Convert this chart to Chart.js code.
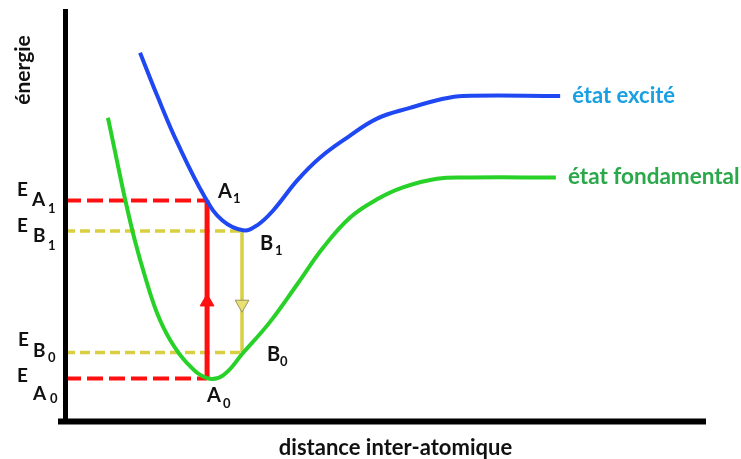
<!DOCTYPE html>
<html>
<head>
<meta charset="utf-8">
<script src="https://cdn.jsdelivr.net/npm/chart.js@4.4.1/dist/chart.umd.min.js"></script>
<style>
  html, body { margin: 0; padding: 0; background: #fff; }
  #wrap { position: relative; width: 741px; height: 459px; }
</style>
</head>
<body>
<div id="wrap"><canvas id="chart"></canvas></div>
<script>
// potential energy curves (x = inter-atomic distance, y = energy, arbitrary units)
const excitedX = [1.59, 1.97, 2.39, 2.97, 3.33, 3.77, 4.07, 4.41, 4.92, 5.40, 5.98, 6.61, 7.31, 8.01, 8.43, 10.49];
const excitedY = [8.94, 7.85, 6.73, 5.42, 4.87, 4.63, 4.75, 5.11, 5.84, 6.39, 6.88, 7.34, 7.60, 7.82, 7.89, 7.89];
const groundX = [0.91, 1.10, 1.27, 1.48, 1.70, 1.95, 2.23, 2.59, 3.01, 3.35, 3.77, 4.34, 4.92, 5.47, 6.04, 6.61, 7.16, 7.88, 8.58, 10.40];
const groundY = [7.36, 6.32, 5.40, 4.38, 3.49, 2.62, 1.96, 1.40, 1.04, 1.11, 1.65, 2.40, 3.32, 4.21, 4.94, 5.38, 5.67, 5.88, 5.91, 5.91];

// energy levels of the four points and the x of the two transitions
const levelNames = ['A1', 'B1', 'B0', 'A0'];
const levelEnergy = [5.35, 4.61, 1.66, 1.03];
const absorptionX = 3.01;   // A0 -> A1
const emissionX = 3.75;     // B1 -> B0

const curveNames = ['état excité', 'état fondamental'];
const xTitle = 'distance inter-atomique';
const yTitle = 'énergie';

const pts = (xs, ys) => xs.map((x, i) => ({ x: x, y: ys[i] }));
const lvl = name => levelEnergy[levelNames.indexOf(name)];

const RED = '#ff1010';
const YELLOW = '#d8cf42';
const FONT = 'Lato, "Open Sans", sans-serif';

// text labels, offsets in pixels from a data anchor
const labels = [
  { t: 'E', ax: 0, ay: lvl('A1'), dx: -48, dy: -5, s: 19 },
  { t: 'A', ax: 0, ay: lvl('A1'), dx: -33, dy: 5, s: 19 },
  { t: '1', ax: 0, ay: lvl('A1'), dx: -17, dy: 12, s: 13 },
  { t: 'E', ax: 0, ay: lvl('B1'), dx: -48, dy: 1, s: 19 },
  { t: 'B', ax: 0, ay: lvl('B1'), dx: -32, dy: 11, s: 19 },
  { t: '1', ax: 0, ay: lvl('B1'), dx: -17, dy: 19, s: 13 },
  { t: 'E', ax: 0, ay: lvl('B0'), dx: -47, dy: -7, s: 19 },
  { t: 'B', ax: 0, ay: lvl('B0'), dx: -32, dy: 4, s: 19 },
  { t: '0', ax: 0, ay: lvl('B0'), dx: -17, dy: 9, s: 13 },
  { t: 'E', ax: 0, ay: lvl('A0'), dx: -48, dy: 3, s: 19 },
  { t: 'A', ax: 0, ay: lvl('A0'), dx: -32, dy: 21, s: 19 },
  { t: '0', ax: 0, ay: lvl('A0'), dx: -15, dy: 24, s: 13 },
  { t: 'A', ax: absorptionX, ay: lvl('A1'), dx: 11, dy: -3, s: 20 },
  { t: '1', ax: absorptionX, ay: lvl('A1'), dx: 26, dy: 2, s: 13 },
  { t: 'B', ax: emissionX, ay: lvl('B1'), dx: 18, dy: 19, s: 20 },
  { t: '1', ax: emissionX, ay: lvl('B1'), dx: 33, dy: 24, s: 13 },
  { t: 'B', ax: emissionX, ay: lvl('B0'), dx: 25, dy: 8, s: 20 },
  { t: '0', ax: emissionX, ay: lvl('B0'), dx: 38, dy: 13, s: 13 },
  { t: 'A', ax: absorptionX, ay: lvl('A0'), dx: 0, dy: 23, s: 20 },
  { t: '0', ax: absorptionX, ay: lvl('A0'), dx: 16, dy: 29, s: 13 },
  { t: curveNames[0], ax: excitedX[excitedX.length - 1], ay: excitedY[excitedY.length - 1], dx: 12, dy: 7, s: 22, c: '#1aa0e2' },
  { t: curveNames[1], ax: groundX[groundX.length - 1], ay: groundY[groundY.length - 1], dx: 12, dy: 6, s: 22.5, c: '#2ba84a' }
];

const axesAndText = {
  id: 'axesAndText',
  afterDatasetsDraw(chart) {
    const ctx = chart.ctx;
    const a = chart.chartArea;
    const sx = chart.scales.x, sy = chart.scales.y;
    ctx.save();
    ctx.strokeStyle = '#000';
    ctx.lineWidth = 5;
    ctx.beginPath();
    ctx.moveTo(a.left + 0.5, a.top);
    ctx.lineTo(a.left + 0.5, a.bottom + 3);
    ctx.stroke();
    ctx.lineWidth = 6;
    ctx.beginPath();
    ctx.moveTo(a.left - 7, a.bottom + 0.5);
    ctx.lineTo(a.right, a.bottom + 0.5);
    ctx.stroke();

    ctx.textBaseline = 'alphabetic';
    labels.forEach(l => {
      ctx.fillStyle = l.c || '#111';
      ctx.font = 'bold ' + l.s + 'px ' + FONT;
      ctx.fillText(l.t, sx.getPixelForValue(l.ax) + l.dx, sy.getPixelForValue(l.ay) + l.dy);
    });

    ctx.fillStyle = '#111';
    ctx.font = 'bold 22px ' + FONT;
    ctx.textAlign = 'center';
    ctx.fillText(xTitle, (a.left + a.right) / 2 + 10, a.bottom + 34);
    ctx.font = 'bold 21px ' + FONT;
    ctx.translate(30, 70);
    ctx.rotate(-Math.PI / 2);
    ctx.fillText(yTitle, 0, 0);
    ctx.restore();
  }
};

const line = (data, color, width, dash) => ({
  type: 'line',
  data: data,
  borderColor: color,
  borderWidth: width,
  borderDash: dash || [],
  pointRadius: 0,
  tension: 0,
  fill: false,
  clip: false
});

const excited = line(pts(excitedX, excitedY), '#1f48f2', 4);
excited.tension = 0.4;
const ground = line(pts(groundX, groundY), '#27d127', 4);
ground.tension = 0.4;

new Chart(document.getElementById('chart'), {
  type: 'scatter',
  data: {
    datasets: [
      excited,
      ground,
      {
        type: 'scatter',
        data: [{ x: absorptionX, y: (lvl('A1') + lvl('A0')) / 2 - 0.3 }],
        pointStyle: 'triangle',
        pointRadius: 8,
        backgroundColor: RED,
        borderColor: RED,
        borderWidth: 1,
        clip: false
      },
      {
        type: 'scatter',
        data: [{ x: emissionX, y: (lvl('B1') + lvl('B0')) / 2 - 0.3 }],
        pointStyle: 'triangle',
        rotation: 180,
        pointRadius: 8,
        backgroundColor: '#e8e070',
        borderColor: '#9a9460',
        borderWidth: 1,
        clip: false
      },
      line([{ x: absorptionX, y: lvl('A0') }, { x: absorptionX, y: lvl('A1') }], RED, 5),
      line([{ x: emissionX, y: lvl('B1') }, { x: emissionX, y: lvl('B0') }], YELLOW, 3.5),
      line([{ x: 0, y: lvl('A1') }, { x: absorptionX, y: lvl('A1') }], RED, 4, [16, 6]),
      line([{ x: 0, y: lvl('A0') }, { x: absorptionX, y: lvl('A0') }], RED, 4, [16, 6]),
      line([{ x: 0, y: lvl('B1') }, { x: emissionX, y: lvl('B1') }], YELLOW, 3.5, [10, 5]),
      line([{ x: 0, y: lvl('B0') }, { x: emissionX, y: lvl('B0') }], YELLOW, 3.5, [10, 5])
    ]
  },
  options: {
    responsive: true,
    maintainAspectRatio: false,
    animation: false,
    layout: { padding: { left: 65, right: 35, top: 8, bottom: 38 } },
    plugins: { legend: { display: false }, tooltip: { enabled: false } },
    scales: {
      x: { type: 'linear', min: 0, max: 13.58, display: false },
      y: { type: 'linear', min: 0, max: 10, display: false }
    }
  },
  plugins: [axesAndText]
});
</script>
</body>
</html>
